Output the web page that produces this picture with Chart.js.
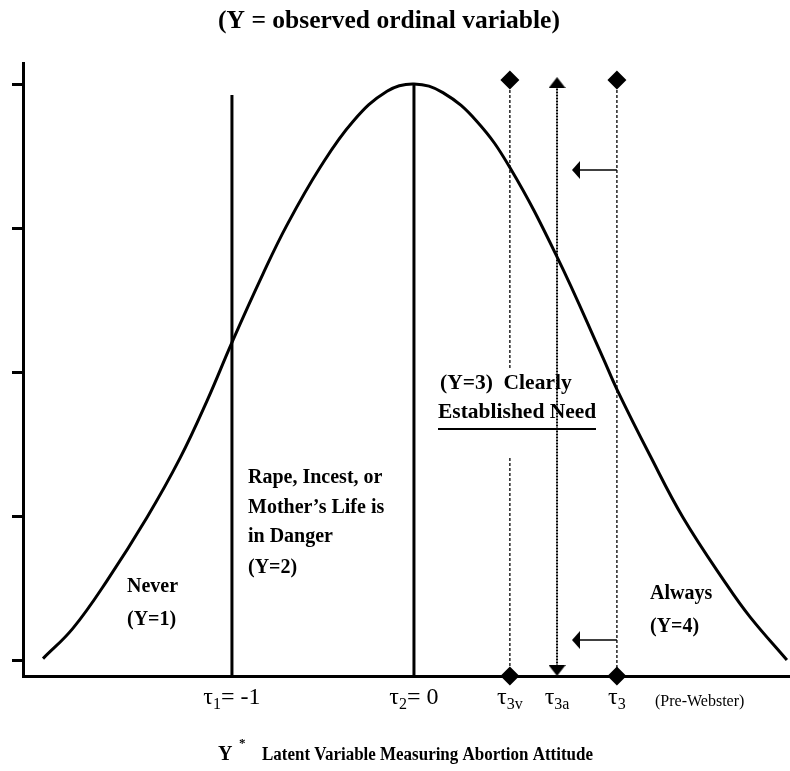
<!DOCTYPE html>
<html><head><meta charset="utf-8">
<script src="https://cdn.jsdelivr.net/npm/chart.js@4.4.1/dist/chart.umd.min.js"></script>
<style>html,body{margin:0;padding:0;background:#fff}#wrap{width:790px;height:771px;position:relative}</style>
</head><body><div id="wrap"><canvas id="c" width="790" height="771"></canvas></div>
<script>
// ---- data ----
const curveX = [-2.038, -1.874, -1.687, -1.467, -1.286, -1.137, -0.995, -0.830, -0.698, -0.516, -0.335, -0.148, 0, 0.159, 0.346, 0.527, 0.786, 1.038, 1.115, 1.297, 1.478, 1.720, 1.846, 2.049];
const curveY = [0.01, 0.22, 0.55, 0.99, 1.40, 1.80, 2.22, 2.68, 3.02, 3.42, 3.74, 3.95, 4.0, 3.94, 3.74, 3.42, 2.80, 2.10, 1.88, 1.42, 0.99, 0.52, 0.30, 0.0];
const thresholdNames = ['τ1', 'τ2', 'τ3v', 'τ3a', 'τ3'];
const thresholdX = [-1, 0, 0.527, 0.786, 1.115];
const thresholdLabelRest = ['= -1', '= 0', '', '', ''];
const yTickValues = [0, 1, 2, 3, 4];
const solidLineTop = [3.924, 4.0];          // tops of tau1, tau2 lines
const dottedTop = 4.028;                    // diamond tops of tau3v / tau3
const tau3aTop = 4.010, tau3aBottom = -0.073;
const tau3vGap = [2.014, 1.403];            // hidden behind the "(Y=3)" text
const arrowY = [3.403, 0.139];
const arrowTipX = 0.89;
const X_MIN = -2.148, X_MAX = 2.066, Y_MIN = -0.111, Y_MAX = 4.146;

const titleText = '(Y = observed ordinal variable)';
const xTitleMain = 'Latent Variable Measuring Abortion Attitude';

// ---- marker images ----
function makeCanvas(w, h, draw) { const c = document.createElement('canvas'); c.width = w; c.height = h; const g = c.getContext('2d'); g.fillStyle = '#000'; g.beginPath(); draw(g, w, h); g.closePath(); g.fill(); return c; }
const arrowLeft = makeCanvas(8, 18, (g, w, h) => { g.moveTo(0, h / 2); g.lineTo(w, 0); g.lineTo(w, h); });
const triUp = makeCanvas(17, 11, (g, w, h) => { g.moveTo(w / 2, 0); g.lineTo(w, h); g.lineTo(0, h); });
const triDown = makeCanvas(17, 11, (g, w, h) => { g.moveTo(0, 0); g.lineTo(w, 0); g.lineTo(w / 2, h); });

const curveData = curveX.map((x, i) => ({ x, y: curveY[i] }));
const common = { pointRadius: 0, fill: false, clip: false, borderColor: '#000', backgroundColor: '#000', pointBorderWidth: 0 };

const datasets = [
  Object.assign({}, common, { data: curveData, borderWidth: 3, tension: 0.4 }),
  Object.assign({}, common, { data: [{ x: thresholdX[0], y: solidLineTop[0] }, { x: thresholdX[0], y: Y_MIN }], borderWidth: 3 }),
  Object.assign({}, common, { data: [{ x: thresholdX[1], y: solidLineTop[1] }, { x: thresholdX[1], y: Y_MIN }], borderWidth: 3 }),
  Object.assign({}, common, { data: [{ x: thresholdX[2], y: dottedTop }, { x: thresholdX[2], y: tau3vGap[0] }, { x: thresholdX[2], y: null }, { x: thresholdX[2], y: tau3vGap[1] }, { x: thresholdX[2], y: Y_MIN }],
    borderWidth: 1.3, borderDash: [3, 2], spanGaps: false, pointStyle: 'rectRot', pointRadius: [9.5, 0, 0, 0, 9.5] }),
  Object.assign({}, common, { data: [{ x: thresholdX[3], y: tau3aTop }, { x: thresholdX[3], y: tau3aBottom }],
    borderWidth: 2, borderDash: [2, 1], pointStyle: [triUp, triDown], pointRadius: [5, 5] }),
  Object.assign({}, common, { data: [{ x: thresholdX[4], y: dottedTop }, { x: thresholdX[4], y: Y_MIN }],
    borderWidth: 1.3, borderDash: [3, 2], pointStyle: 'rectRot', pointRadius: [9.5, 9.5] }),
  Object.assign({}, common, { data: [{ x: thresholdX[4], y: arrowY[0] }, { x: arrowTipX, y: arrowY[0] }], borderWidth: 1.5, pointStyle: ['circle', arrowLeft], pointRadius: [0, 5] }),
  Object.assign({}, common, { data: [{ x: thresholdX[4], y: arrowY[1] }, { x: arrowTipX, y: arrowY[1] }], borderWidth: 1.5, pointStyle: ['circle', arrowLeft], pointRadius: [0, 5] })
];

const SERIF = '"Liberation Serif", "Times New Roman", serif';
function drawTau(ctx, cx, baseline, sub, rest) {
  const big = '24px ' + SERIF, small = '16px ' + SERIF;
  ctx.font = big; const wT = ctx.measureText('τ').width; const wR = rest ? ctx.measureText(rest).width : 0;
  ctx.font = small; const wS = ctx.measureText(sub).width;
  let x = cx - (wT + wS + wR) / 2;
  ctx.textAlign = 'left'; ctx.textBaseline = 'alphabetic';
  ctx.font = big; ctx.fillText('τ', x, baseline); x += wT;
  ctx.font = small; ctx.fillText(sub, x, baseline + 5); x += wS;
  if (rest) { ctx.font = big; ctx.fillText(rest, x, baseline); }
}

const textPlugin = {
  id: 'texts',
  afterDraw(chart) {
    const ctx = chart.ctx, xs = chart.scales.x;
    ctx.save();
    ctx.fillStyle = '#000'; ctx.strokeStyle = '#000';
    // top title
    ctx.font = 'bold 25.5px ' + SERIF; ctx.textAlign = 'center'; ctx.textBaseline = 'middle';
    ctx.fillText(titleText, 389, 21);
    // region labels
    ctx.font = 'bold 20px ' + SERIF; ctx.textAlign = 'left'; ctx.textBaseline = 'middle';
    const labels = [
      ['Never', 127, 587], ['(Y=1)', 127, 620],
      ['Rape, Incest, or', 248, 478], ['Mother\u2019s Life is', 248, 508], ['in Danger', 248, 537], ['(Y=2)', 248, 568],
      ['Always', 650, 594], ['(Y=4)', 650, 627]
    ];
    labels.forEach(([t, x, y]) => ctx.fillText(t, x, y));
    ctx.font = 'bold 21.5px ' + SERIF;
    ctx.fillText('(Y=3)  Clearly', 440, 383);
    ctx.fillText('Established Need', 438, 412);
    ctx.lineWidth = 2; ctx.beginPath(); ctx.moveTo(438, 429); ctx.lineTo(596, 429); ctx.stroke();
    // tau labels
    thresholdNames.forEach((n, i) => {
      drawTau(ctx, xs.getPixelForValue(thresholdX[i]), 704, n.slice(1), thresholdLabelRest[i]);
    });
    ctx.font = '16px ' + SERIF; ctx.textAlign = 'left'; ctx.textBaseline = 'alphabetic';
    ctx.fillText('(Pre-Webster)', 655, 706);
    // bottom title
    ctx.font = 'bold 20px ' + SERIF;
    ctx.fillText('Y', 218, 760);
    ctx.font = 'bold 13px ' + SERIF; ctx.fillText('*', 239, 747);
    ctx.font = 'bold 18.5px ' + SERIF;
    const w = ctx.measureText(xTitleMain).width;
    ctx.save(); ctx.translate(262, 760); ctx.scale(331 / w, 1); ctx.fillText(xTitleMain, 0, 0); ctx.restore();
    ctx.restore();
  }
};

new Chart(document.getElementById('c'), {
  type: 'line',
  data: { datasets },
  plugins: [textPlugin],
  options: {
    responsive: false, animation: false, events: [],
    layout: { autoPadding: false, padding: { top: 63, left: 0, right: 0, bottom: 0 } },
    plugins: { legend: { display: false }, tooltip: { enabled: false }, title: { display: false } },
    scales: {
      x: {
        type: 'linear', min: X_MIN, max: X_MAX,
        grid: { display: false },
        border: { display: true, color: '#000', width: 3 },
        ticks: { display: false },
        afterFit(s) { s.height = 95; }
      },
      y: {
        type: 'linear', min: Y_MIN, max: Y_MAX,
        afterBuildTicks(s) { s.ticks = yTickValues.map(v => ({ value: v })); },
        grid: { display: true, drawOnChartArea: false, drawTicks: true, tickLength: 11, tickWidth: 3, color: '#000' },
        border: { display: true, color: '#000', width: 3 },
        ticks: { display: false },
        afterFit(s) { s.width = 23; }
      }
    }
  }
});
</script>
</body></html>
